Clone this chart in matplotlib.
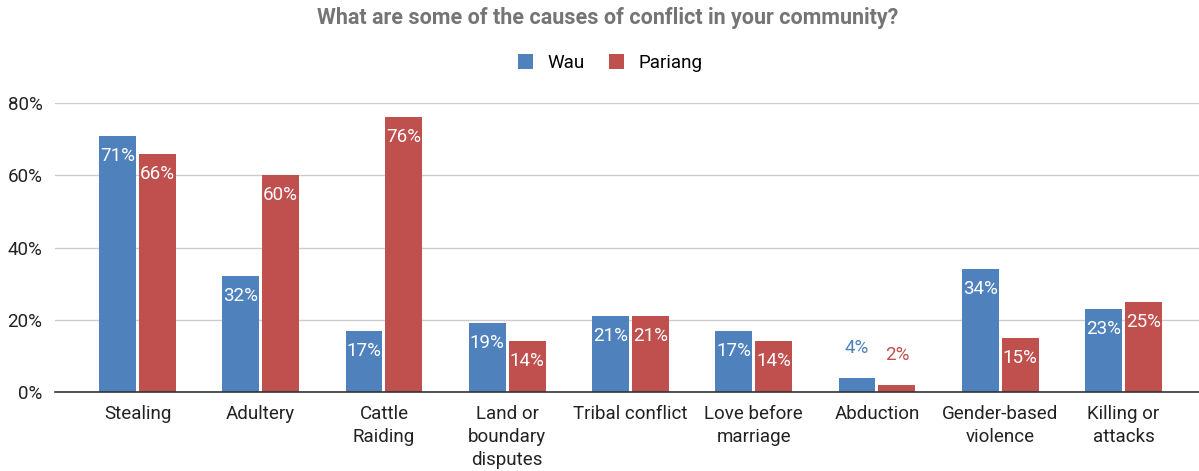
import matplotlib.pyplot as plt
import numpy as np

plt.rcParams['font.family'] = ['Roboto', 'DejaVu Sans']

categories = ['Stealing', 'Adultery', 'Cattle\nRaiding', 'Land or\nboundary\ndisputes',
              'Tribal conflict', 'Love before\nmarriage', 'Abduction',
              'Gender-based\nviolence', 'Killing or\nattacks']
wau = [71, 32, 17, 19, 21, 17, 4, 34, 23]
pariang = [66, 60, 76, 14, 21, 14, 2, 15, 25]
yticks = [0, 20, 40, 60, 80]

blue = '#4f81bd'
red = '#c0504e'

fig = plt.figure(figsize=(11.99, 4.71), dpi=100)
ax = fig.add_axes([0.0459, 0.1677, 0.9541, 0.6136])

x = np.arange(len(categories))
w = 0.30
off = 0.162

def draw_series(xs, vals, color, name):
    bars = ax.bar(xs, vals, w, color=color, label=name, zorder=3)
    for b, v in zip(bars, vals):
        cx = b.get_x() + b.get_width() / 2
        if v >= 8:
            ax.annotate(f'{v}%', (cx, v), xytext=(0, -20), textcoords='offset pixels',
                        ha='center', va='center', color='white', fontsize=13.5, zorder=4)
        else:
            ax.annotate(f'{v}%', (cx, v), xytext=(0, 30), textcoords='offset pixels',
                        ha='center', va='center', color=color, fontsize=13.5, zorder=4)
    return bars

draw_series(x - off, wau, blue, 'Wau')
draw_series(x + off, pariang, red, 'Pariang')

ax.set_xlim(-0.669, 8.613)
ax.set_ylim(0, 80)
ax.set_yticks(yticks)
ax.set_yticklabels([f'{t}%' for t in yticks])
ax.set_xticks(x)
ax.set_xticklabels(categories, linespacing=1.38)
ax.tick_params(axis='both', length=0, labelsize=13.5, colors='#222222')
ax.tick_params(axis='x', pad=9)
ax.tick_params(axis='y', pad=9)

ax.grid(axis='y', color='#cccccc', linewidth=1, zorder=0)
for s in ['top', 'right', 'left']:
    ax.spines[s].set_visible(False)
ax.spines['bottom'].set_color('#333333')
ax.spines['bottom'].set_linewidth(1.2)
ax.spines['bottom'].set_zorder(5)

fig.text(0.507, 0.962, 'What are some of the causes of conflict in your community?',
         ha='center', va='center', fontsize=15.5, fontweight='bold', color='#757575')
fig.legend(loc='center', bbox_to_anchor=(0.509, 0.866), ncol=2, frameon=False,
           fontsize=13.5, handlelength=0.8, handleheight=0.8, columnspacing=1.3,
           handletextpad=0.75)

fig.savefig('out.png', dpi=100)
